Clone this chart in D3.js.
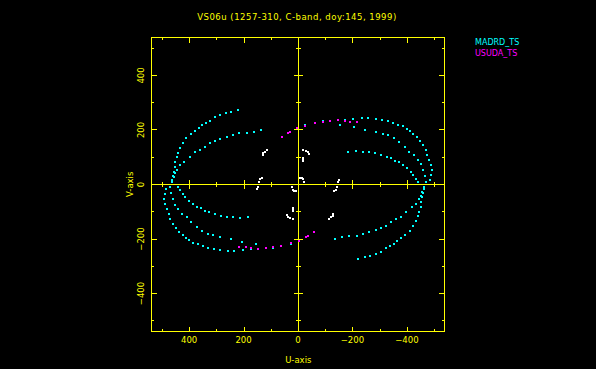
<!DOCTYPE html>
<html><head><meta charset="utf-8">
<script src="https://cdn.jsdelivr.net/npm/d3@7"></script>
<style>html,body{margin:0;padding:0;background:#000;}svg{display:block;}</style>
</head><body>
<svg id="c" width="596" height="369"></svg>
<script>
// ---- data (u, v in wavelength units, upper half; conjugates (-u,-v) are plotted too) ----
const title = "VS06u (1257-310, C-band, doy:145, 1999)";
const seriesNames = ["MADRD_TS", "USUDA_TS"];
const xTickLabels = [400, 200, 0, -200, -400];
const yTickLabels = [400, 200, 0, -200, -400];
const majorTicks = [-400, -200, 0, 200, 400];
const minorTicks = [-500, -300, -100, 100, 300, 500];

// MADRD_TS tracks
const madrdOuterLeft = [[222,273],[245,265],[265,261],[286,255],[304,247],[322,234],[337,227],[353,218],[365,206],[380,196],[393,184],[410,170],[423,151],[432,133],[439,114],[445,100],[451,84],[453,65],[457,47],[459,31],[463,16]];
const madrdInnerLeft = [[135,200],[163,191],[188,188],[215,188],[239,183],[261,174],[286,167],[304,161],[322,153],[341,139],[359,127],[377,120],[398,102],[420,84],[432,72],[445,53],[451,41],[457,26],[463,10]];
const madrdOuterRight = [[-26,217],[-63,226],[-92,232],[-118,234],[-173,238],[-202,241],[-235,244],[-257,244],[-287,241],[-309,238],[-331,234],[-349,226],[-367,219],[-386,215],[-401,205],[-412,195],[-423,185],[-437,174],[-448,160],[-459,145],[-470,128],[-474,109],[-481,91],[-489,73],[-492,54],[-489,36],[-485,18]];
const madrdMiddleRight = [[-155,220],[-206,211],[-246,200],[-287,193],[-312,185],[-331,180],[-353,169],[-371,156],[-393,138],[-408,119],[-426,108],[-441,90],[-452,75],[-459,53],[-467,31],[-470,9]];
const madrdInnerRight = [[-184,119],[-213,123],[-238,119],[-261,119],[-283,117],[-304,109],[-326,101],[-341,97],[-357,87],[-371,83],[-386,73],[-401,61],[-415,46],[-423,36],[-434,21],[-441,9]];
// USUDA_TS points
const usudaTrack = [[60,176],[35,189],[29,194],[4,206],[-26,216],[-63,226],[-93,231],[-118,234],[-148,237],[-173,234],[-191,229],[-216,229]];
// other (white) baseline points
const otherTrack = [[114,127],[121,120],[127,115],[129,108],[-20,127],[-30,123],[-38,118],[-42,111],[-18,99],[-18,94],[-18,88],[133,25],[141,19],[145,10],[-151,18],[-148,8],[-8,25],[-14,23],[-20,19],[-23,10]];

const madrdTracks = [madrdOuterLeft, madrdInnerLeft, madrdOuterRight, madrdMiddleRight, madrdInnerRight];

// ---- drawing ----
const svg = d3.select("#c");
svg.append("rect").attr("width",596).attr("height",369).attr("fill","#000");
const YEL = "#ffff00", CYAN = "#00ffff", MAG = "#ff00ff";
const FONT = "DejaVu Sans, sans-serif";

const x = d3.scaleLinear().domain([540,-540]).range([151,445]);
const y = d3.scaleLinear().domain([540,-540]).range([37.3,331.7]);
const px = v => Math.round(x(v)) + 0.5;
const py = v => Math.floor(y(v)) + 0.5;
const L = px(540)-0.5, R = px(-540)-1.5, T = py(540), B = py(-540);

const g = svg.append("g");
// frame
g.append("rect").attr("x",L+0.5).attr("y",T).attr("width",R-L-0.5).attr("height",B-T)
  .attr("fill","none").attr("stroke",YEL).attr("stroke-width",1).attr("shape-rendering","crispEdges");

function tickLine(x1,y1,x2,y2){
  g.append("line").attr("x1",x1).attr("y1",y1).attr("x2",x2).attr("y2",y2)
   .attr("stroke",YEL).attr("stroke-width",1).attr("shape-rendering","crispEdges");
}
// zero lines
tickLine(L+0.5, py(0), R, py(0));
tickLine(px(0), T, px(0), B);

const MAJ = 5, MIN = 2.5;
majorTicks.forEach(t => {
  tickLine(px(t), B, px(t), B-MAJ); tickLine(px(t), T, px(t), T+MAJ);
  tickLine(L+0.5, py(t), L+0.5+MAJ, py(t)); tickLine(R, py(t), R-MAJ, py(t));
  if (t !== 0) { tickLine(px(t), py(0)-4.5, px(t), py(0)+4.5); tickLine(px(0)-4.5, py(t), px(0)+4.5, py(t)); }
});
minorTicks.forEach(t => {
  tickLine(px(t), B, px(t), B-MIN); tickLine(px(t), T, px(t), T+MIN);
  tickLine(L+0.5, py(t), L+0.5+MIN, py(t)); tickLine(R, py(t), R-MIN, py(t));
  tickLine(px(t), py(0)-2.5, px(t), py(0)+2.5); tickLine(px(0)-2.5, py(t), px(0)+2.5, py(t));
});

const fmt = v => v < 0 ? "\u2212" + Math.abs(v) : String(v);
// x tick labels
xTickLabels.forEach(t => {
  svg.append("text").attr("x", x(t)).attr("y", 342.7).attr("text-anchor","middle")
    .attr("font-family",FONT).attr("font-size",8.5).attr("fill",YEL).text(fmt(t));
});
// y tick labels (rotated)
yTickLabels.forEach(t => {
  svg.append("text").attr("transform",`translate(144.3,${y(t)}) rotate(-90)`).attr("text-anchor","middle")
    .attr("font-family",FONT).attr("font-size",8.5).attr("fill",YEL).text(fmt(t));
});
// axis titles
svg.append("text").attr("x",298.3).attr("y",362.7).attr("text-anchor","middle")
  .attr("font-family",FONT).attr("font-size",8.5).attr("fill",YEL).text("U-axis");
svg.append("text").attr("transform","translate(132.7,184.3) rotate(-90)").attr("text-anchor","middle")
  .attr("font-family",FONT).attr("font-size",8.5).attr("fill",YEL).text("V-axis");
// title
svg.append("text").attr("x",297).attr("y",19.5).attr("text-anchor","middle")
  .attr("font-family",FONT).attr("font-size",8.5).attr("letter-spacing",0.5).attr("fill",YEL).text(title);
// legend
const legendColors = [CYAN, MAG];
seriesNames.forEach((n,i) => {
  svg.append("text").attr("x",475).attr("y",45 + i*10.5)
    .attr("font-family",FONT).attr("font-size",8).attr("fill",legendColors[i]).text(n);
});

// points
function plotPoints(arr, color){
  const pts = [];
  arr.forEach(([u,v]) => { pts.push([u,v]); pts.push([-u,-v]); });
  svg.append("g").selectAll("rect").data(pts).join("rect")
    .attr("x", d => Math.round(x(d[0])) - 1).attr("y", d => Math.round(y(d[1])) - 1)
    .attr("width", 2).attr("height", 2).attr("fill", color).attr("shape-rendering","crispEdges");
}
madrdTracks.forEach(t => plotPoints(t, CYAN));
plotPoints(usudaTrack, MAG);
plotPoints(otherTrack, "#ffffff");
</script>
</body></html>
